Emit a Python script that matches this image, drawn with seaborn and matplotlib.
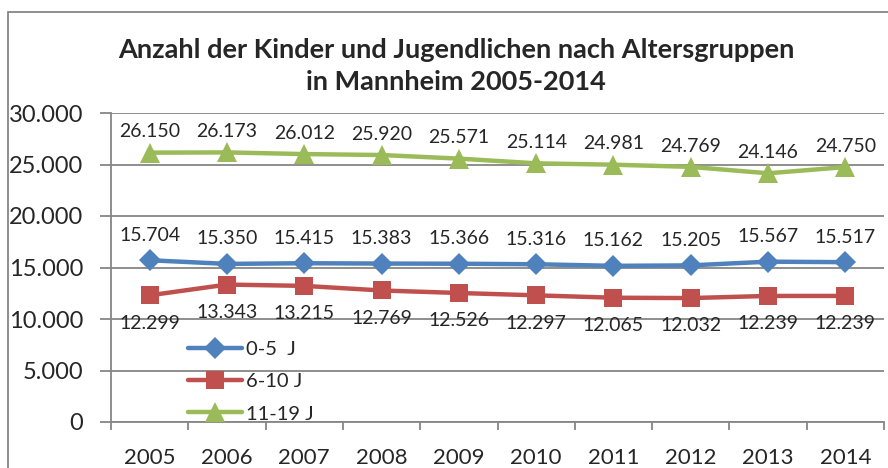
import numpy as np
import pandas as pd
import seaborn as sns
import matplotlib
matplotlib.use('Agg')
import matplotlib.pyplot as plt
from matplotlib.patches import Rectangle
from matplotlib.ticker import FuncFormatter, FixedLocator

# Daten
jahre = [2005, 2006, 2007, 2008, 2009, 2010, 2011, 2012, 2013, 2014]
kinder_0_5 = [15704, 15350, 15415, 15383, 15366, 15316, 15162, 15205, 15567, 15517]
kinder_6_10 = [12299, 13343, 13215, 12769, 12526, 12297, 12065, 12032, 12239, 12239]
jugend_11_19 = [26150, 26173, 26012, 25920, 25571, 25114, 24981, 24769, 24146, 24750]
gruppen = ["0-5  J", "6-10 J", "11-19 J"]

idx = np.arange(len(jahre))
df = pd.DataFrame({"pos": idx, "0-5  J": kinder_0_5, "6-10 J": kinder_6_10, "11-19 J": jugend_11_19})

sns.set_style("white")
plt.rcParams['font.family'] = ['Lato', 'DejaVu Sans']

fig = plt.figure(figsize=(8.88, 4.68), dpi=100)
ax = fig.add_axes([111/888, 1 - 422/468, 773/888, 309/468])

grau = '#868686'
farben = {"0-5  J": '#4F81BD', "6-10 J": '#C0504D', "11-19 J": '#9BBB59'}
marker = {"0-5  J": 'D', "6-10 J": 's', "11-19 J": '^'}
msize = {"0-5  J": 11, "6-10 J": 13, "11-19 J": 14}
# Abstand der Beschriftung in Punkten (oben / unten)
offset = {"0-5  J": 18, "6-10 J": -20, "11-19 J": 15}

for g in gruppen:
    sns.lineplot(data=df, x="pos", y=g, ax=ax, color=farben[g], marker=marker[g],
                 markersize=msize[g], markeredgewidth=0, linewidth=3.2, label=g)
    for x, v in zip(df["pos"], df[g]):
        ax.annotate(f"{v:,}".replace(",", "."), (x, v), xytext=(0, offset[g]),
                    textcoords='offset points', ha='center', va='center', fontsize=14)

ax.set_xlim(-0.5, len(jahre) - 0.5)
ax.set_ylim(0, 30000)
ax.set_yticks(np.arange(0, 30001, 5000))
ax.yaxis.set_major_formatter(FuncFormatter(lambda v, p: f"{int(v):,}".replace(",", ".")))
ax.grid(axis='y', color=grau, linewidth=1.3)
ax.set_axisbelow(True)

ax.xaxis.set_major_locator(FixedLocator(np.arange(-0.5, len(jahre), 1)))
ax.xaxis.set_major_formatter(FuncFormatter(lambda v, p: ""))
ax.xaxis.set_minor_locator(FixedLocator(idx))
ax.set_xticklabels([str(j) for j in jahre], minor=True)
ax.tick_params(axis='x', which='major', length=6, width=1.3, color=grau, direction='out', bottom=True)
ax.tick_params(axis='x', which='minor', length=0, pad=19, labelsize=16)
ax.tick_params(axis='y', length=8, width=1.3, color=grau, direction='out', left=True, pad=12, labelsize=17)

ax.set_xlabel("")
ax.set_ylabel("")
for s in ['top', 'right']:
    ax.spines[s].set_visible(False)
for s in ['left', 'bottom']:
    ax.spines[s].set_color(grau)
    ax.spines[s].set_linewidth(1.3)

ax.legend(loc='upper left', bbox_to_anchor=((188 - 111) / 773, (422 - 341) / 309), frameon=False,
          fontsize=14.5, handlelength=2.7, borderpad=0, borderaxespad=0, labelspacing=0.75, handletextpad=0.2)

fig.text(456/888, 1 - 66/468, "Anzahl der Kinder und Jugendlichen nach Altersgruppen\nin Mannheim 2005-2014",
         ha='center', va='center', fontsize=19.5, fontweight='bold', linespacing=1.4)

# Rahmen des Diagrammbereichs
fig.patches.append(Rectangle((8/888, -0.1), 1.2, 1 - 12/468 + 0.1, transform=fig.transFigure,
                             fill=False, edgecolor=grau, linewidth=1.3))

fig.savefig("out.png", dpi=100)
